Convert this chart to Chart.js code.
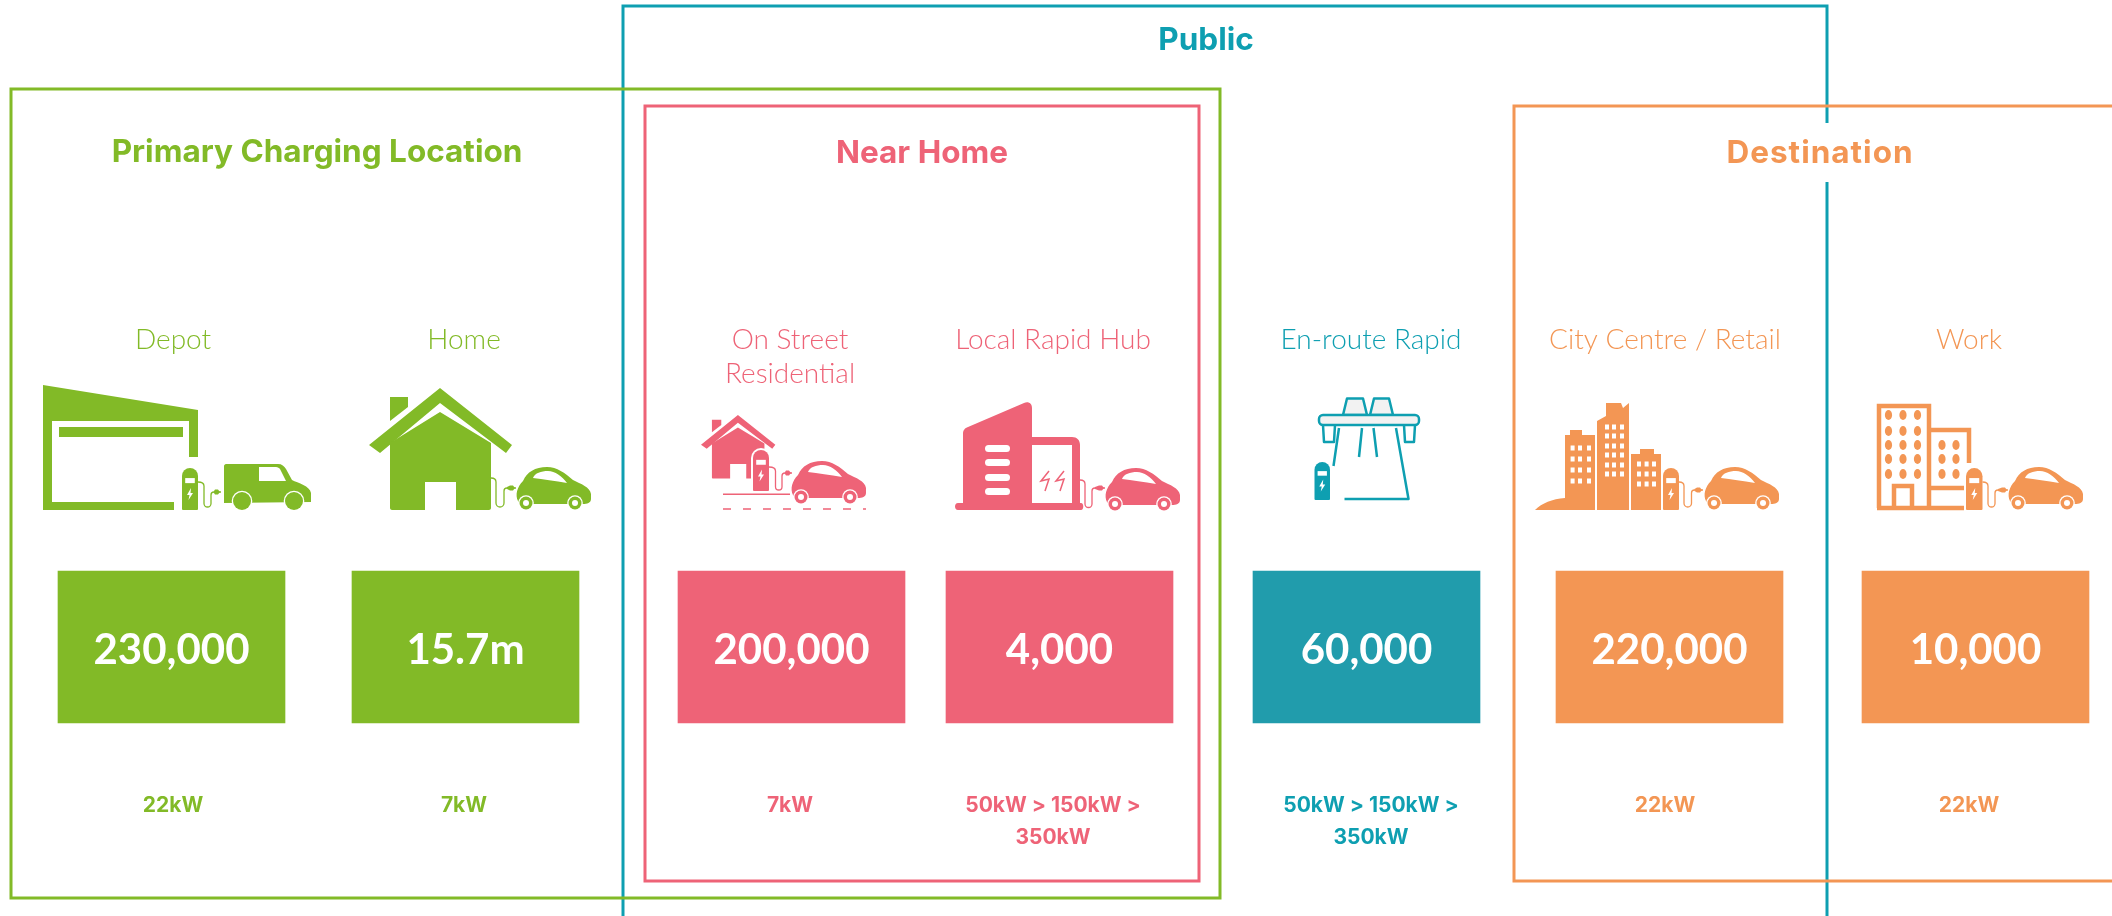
<!DOCTYPE html>
<html>
<head>
<meta charset="utf-8">
<title>Charging locations</title>
<script src="https://cdn.jsdelivr.net/npm/chart.js@4/dist/chart.umd.js"></script>
<style>
  html, body { margin: 0; padding: 0; background: #fff; }
  canvas { display: block; }
</style>
</head>
<body>
<canvas id="chart" width="2112" height="916"></canvas>
<script>
// Chart data
const categories = ['Depot', 'Home', ['On Street', 'Residential'], ['Local Rapid Hub'], 'En-route Rapid', 'City Centre / Retail', 'Work'];
const tileValues = ['230,000', '15.7m', '200,000', '4,000', '60,000', '220,000', '10,000'];
const powerRatings = [['22kW'], ['7kW'], ['7kW'], ['50kW > 150kW >', '350kW'], ['50kW > 150kW >', '350kW'], ['22kW'], ['22kW']];
const groupTitles = ['Public', 'Primary Charging Location', 'Near Home', 'Destination'];

// Layout and colours, in the 2112x916 space of the hidden axes
const GREEN = '#82BA27', PINK = '#EE6377', TEAL = '#219CAC', ORANGE = '#F39654';
const LINE_TEAL = '#0E9FB1';
const tileCentres = [171.5, 465.5, 791.5, 1059.5, 1366.5, 1669.5, 1975.5];
const tileColours = [GREEN, GREEN, PINK, PINK, TEAL, ORANGE, ORANGE];
const labelCentres = [173, 464, 790, 1053, 1371, 1665, 1969];
const tileTop = 571, tileBottom = 723;
const frames = [
    { x0: 623, y0: 6, x1: 1827, y1: 940, colour: LINE_TEAL },
    { x0: 11, y0: 89, x1: 1220, y1: 898, colour: GREEN },
    { x0: 645, y0: 106, x1: 1199, y1: 881, colour: PINK },
    { x0: 1514, y0: 106, x1: 2130, y1: 881, colour: ORANGE }
];
const titlePlaces = [
    { x: 1206, y: 50, colour: LINE_TEAL, spacing: '0px' },
    { x: 317, y: 162, colour: GREEN, spacing: '0px' },
    { x: 922, y: 163, colour: PINK, spacing: '0px' },
    { x: 1820, y: 163, colour: ORANGE, spacing: '1px' }
];

const TITLE_FONT = '700 31.5px Inter';
const LABEL_FONT = '300 28px Lato';
const VALUE_FONT = '700 42px Lato';
const POWER_FONT = '700 21px Inter';

// Icon pieces
function poly(ctx, pts) {
    ctx.beginPath();
    pts.forEach(function(p, i) { i ? ctx.lineTo(p[0], p[1]) : ctx.moveTo(p[0], p[1]); });
    ctx.closePath();
    ctx.fill();
}

function wheel(ctx, x, y, r, colour, hub) {
    ctx.fillStyle = '#fff';
    ctx.beginPath(); ctx.arc(x, y, r + 1.3, 0, Math.PI * 2); ctx.fill();
    ctx.fillStyle = colour;
    ctx.beginPath(); ctx.arc(x, y, r, 0, Math.PI * 2); ctx.fill();
    if (hub) {
        ctx.fillStyle = '#fff';
        ctx.beginPath(); ctx.arc(x, y, hub, 0, Math.PI * 2); ctx.fill();
    }
}

function car(ctx, x, y, colour) {
    ctx.save();
    ctx.translate(x, y);
    ctx.fillStyle = colour;
    ctx.fill(new Path2D('M3 34C0 28 2 20 8 14C12 5 20 0 32 0C42 0 50 6 58 13C66 17 75 20 76 27L76 32C76 36 72 37 68 37L10 37C6 37 4 36 3 34Z'));
    ctx.fillStyle = '#fff';
    ctx.fill(new Path2D('M18 11C20 6 26 4 33 4C40 4 47 9 52 16C40 14 28 12 18 11Z'));
    wheel(ctx, 11, 36, 6.5, colour, 3);
    wheel(ctx, 60, 36, 6.5, colour, 3);
    ctx.restore();
}

function van(ctx, x, y, colour) {
    ctx.save();
    ctx.translate(x, y);
    ctx.fillStyle = colour;
    ctx.fill(new Path2D('M2 0L54 0C58 0 60 2 62 5L68 16C74 19 86 22 87 29L87 38L0 39L0 2C0 1 1 0 2 0Z'));
    ctx.fillStyle = '#fff';
    ctx.fill(new Path2D('M35 3L52 3C54 3 55 4 56 5L62 17L35 17Z'));
    wheel(ctx, 18, 37, 9, colour);
    wheel(ctx, 70, 37, 9, colour);
    ctx.restore();
}

function post(ctx, x, y, w, h, colour) {
    ctx.fillStyle = '#fff';
    ctx.beginPath();
    ctx.roundRect(x - 2, y - 2, w + 4, h + 4, [w / 2 + 2, w / 2 + 2, 0, 0]);
    ctx.fill();
    ctx.fillStyle = colour;
    ctx.beginPath();
    ctx.roundRect(x, y, w, h, [w / 2, w / 2, 1, 1]);
    ctx.fill();
    ctx.fillStyle = '#fff';
    ctx.fillRect(x + w * 0.2, y + h * 0.24, w * 0.6, h * 0.12);
    const cx = x + w / 2, cy = y + h * 0.62;
    poly(ctx, [[cx + 1, cy - 6], [cx - 3, cy + 1], [cx - 0.5, cy + 1], [cx - 1.5, cy + 6], [cx + 3, cy - 1], [cx + 0.5, cy - 1]]);
}

function cable(ctx, x0, y0, a, yb, b, y1, end, colour) {
    const r = (b - a) / 2;
    ctx.strokeStyle = colour;
    ctx.lineWidth = 1.3;
    ctx.beginPath();
    ctx.moveTo(x0, y0);
    ctx.quadraticCurveTo(a, y0, a, y0 + 4);
    ctx.lineTo(a, yb - r);
    ctx.arc(a + r, yb - r, r, Math.PI, 0, true);
    ctx.lineTo(b, y1 + 3);
    ctx.quadraticCurveTo(b, y1, b + 3, y1);
    ctx.lineTo(end, y1);
    ctx.stroke();
    ctx.fillStyle = colour;
    poly(ctx, [[b + 3, y1 - 1], [end - 6, y1 - 2.5], [end - 3, y1 - 2.5], [end - 1, y1], [end - 3, y1 + 2.5], [end - 6, y1 + 2.5], [b + 3, y1 + 1]]);
}

function house(ctx, x, y, s, colour) {
    ctx.save();
    ctx.translate(x, y);
    ctx.scale(s, s);
    ctx.fillStyle = colour;
    ctx.fill(new Path2D('M0 57L71 0L143 57L137 65L71 15L11 65Z'));
    ctx.fill(new Path2D('M21 9L39 9L39 19L21 33Z'));
    ctx.fill(new Path2D('M21 55L71 24L122 55L122 120C122 121 121 122 120 122L87 122L87 94L56 94L56 122L23 122C22 122 21 121 21 120Z'));
    ctx.restore();
}

function windowGrid(ctx, xs, ys) {
    xs.forEach(function(wx) {
        ys.forEach(function(wy) { ctx.fillRect(wx - 2, wy - 2.5, 4, 5); });
    });
}

function dotGrid(ctx, xs, ys) {
    xs.forEach(function(dx) {
        ys.forEach(function(dy) {
            ctx.beginPath(); ctx.ellipse(dx, dy, 3.6, 5, 0, 0, Math.PI * 2); ctx.fill();
        });
    });
}

const iconDrawers = [
    function depot(ctx, c) {
        ctx.fillStyle = c;
        poly(ctx, [[43, 385], [198, 410], [198, 457], [189, 457], [189, 421], [52, 421], [52, 502], [174, 502], [174, 510], [43, 510]]);
        ctx.fillRect(59, 427, 124, 10);
        post(ctx, 182, 468, 16, 42, c);
        cable(ctx, 198, 482, 204, 507, 211, 492, 221, c);
        van(ctx, 224, 464, c);
    },
    function home(ctx, c) {
        house(ctx, 369, 388, 1, c);
        cable(ctx, 491, 478, 496, 507, 504, 488, 516, c);
        car(ctx, 515, 467, c);
    },
    function onStreet(ctx, c) {
        house(ctx, 701, 415, 0.52, c);
        post(ctx, 753, 450, 16, 41, c);
        cable(ctx, 769, 467, 775.5, 490, 782, 473, 792, c);
        ctx.fillStyle = c;
        ctx.fillRect(723, 493.5, 67, 1.5);
        ctx.strokeStyle = c;
        ctx.lineWidth = 1.5;
        ctx.setLineDash([8, 12]);
        ctx.beginPath(); ctx.moveTo(723, 509); ctx.lineTo(866, 509); ctx.stroke();
        ctx.setLineDash([]);
        car(ctx, 790, 461, c);
    },
    function localHub(ctx, c) {
        ctx.fillStyle = c;
        ctx.fill(new Path2D('M963 434C963 430 965 428 968 427L1024 403C1028 401 1032 403 1032 408L1032 437L1072 437C1077 437 1080 440 1080 445L1080 503L1081 503C1084 503 1084 510 1081 510L958 510C954 510 954 503 958 503L963 503Z'));
        ctx.fillStyle = '#fff';
        ctx.fillRect(1032, 445, 40, 58);
        [445, 459, 474, 488].forEach(function(sy) {
            ctx.beginPath(); ctx.roundRect(985, sy, 25, 7, 3.5); ctx.fill();
        });
        ctx.strokeStyle = c;
        ctx.lineWidth = 1.5;
        [1046, 1061].forEach(function(bx) {
            ctx.beginPath();
            ctx.moveTo(bx + 3, 471); ctx.lineTo(bx - 5, 481); ctx.lineTo(bx + 3, 479); ctx.lineTo(bx - 1, 491);
            ctx.stroke();
        });
        cable(ctx, 1080, 480, 1085, 507.5, 1092, 488, 1105, c);
        car(ctx, 1104, 468, c);
    },
    function enRoute(ctx, c) {
        ctx.strokeStyle = c;
        ctx.lineWidth = 2.5;
        ctx.lineJoin = 'round';
        ctx.fillStyle = '#F2F2F2';
        [[1343, 1367], [1370, 1393]].forEach(function(t) {
            ctx.beginPath();
            ctx.moveTo(t[0], 415); ctx.lineTo(t[0] + 4, 398.5); ctx.lineTo(t[1] - 4, 398.5); ctx.lineTo(t[1], 415);
            ctx.closePath(); ctx.fill(); ctx.stroke();
        });
        [[1323, 1335], [1404, 1415]].forEach(function(t) {
            ctx.beginPath();
            ctx.moveTo(t[0], 425); ctx.lineTo(t[0] + 1, 442); ctx.lineTo(t[1] - 1, 442); ctx.lineTo(t[1], 425);
            ctx.stroke();
        });
        ctx.beginPath(); ctx.roundRect(1319, 415, 100, 10, 4); ctx.fill(); ctx.stroke();
        ctx.beginPath();
        ctx.moveTo(1339, 428); ctx.lineTo(1333.5, 466);
        ctx.moveTo(1362, 428); ctx.lineTo(1359, 457);
        ctx.moveTo(1373.5, 428); ctx.lineTo(1377, 457);
        ctx.moveTo(1396, 428); ctx.lineTo(1408.5, 499); ctx.lineTo(1344.5, 499);
        ctx.stroke();
        ctx.lineJoin = 'miter';
        post(ctx, 1314.5, 462, 15.5, 38, c);
    },
    function city(ctx, c) {
        ctx.fillStyle = c;
        ctx.fill(new Path2D('M1535 510C1542 503 1552 499 1565 498L1565 435L1570 435L1570 430L1582 430L1582 435L1595 435L1595 510Z'));
        ctx.fill(new Path2D('M1597 510L1597 421L1606 416L1606 403L1621 403L1623 408L1629 403L1629 510Z'));
        ctx.fill(new Path2D('M1631 510L1631 454L1640 454L1640 449L1654 449L1654 454L1661 454L1661 510Z'));
        ctx.fillStyle = '#fff';
        windowGrid(ctx, [1572.6, 1580, 1589], [448, 459, 470, 481]);
        windowGrid(ctx, [1607, 1614, 1622], [427, 436, 446, 455, 465, 474]);
        windowGrid(ctx, [1639, 1646.6, 1654], [464, 474, 484]);
        post(ctx, 1663, 468, 16, 42, c);
        cable(ctx, 1679, 482, 1684, 507, 1691.5, 490, 1703, c);
        car(ctx, 1703, 467, c);
    },
    function work(ctx, c) {
        ctx.strokeStyle = c;
        ctx.fillStyle = c;
        ctx.lineWidth = 4.5;
        ctx.beginPath();
        ctx.moveTo(1879, 508); ctx.lineTo(1879, 406); ctx.lineTo(1929, 406); ctx.lineTo(1929, 508);
        ctx.moveTo(1929, 430); ctx.lineTo(1969, 430); ctx.lineTo(1969, 463);
        ctx.moveTo(1877, 508); ctx.lineTo(1966, 508);
        ctx.moveTo(1929, 488); ctx.lineTo(1966, 488);
        ctx.moveTo(1894, 508); ctx.lineTo(1894, 486); ctx.lineTo(1912, 486); ctx.lineTo(1912, 508);
        ctx.stroke();
        dotGrid(ctx, [1888.5, 1903, 1917.5], [415, 431, 445, 459, 474]);
        dotGrid(ctx, [1942, 1956], [445, 459, 474]);
        post(ctx, 1966, 468, 16.5, 42, c);
        cable(ctx, 1982.5, 482, 1988, 507, 1995, 490, 2008, c);
        car(ctx, 2007, 467, c);
    }
];
const iconColours = [GREEN, GREEN, PINK, PINK, LINE_TEAL, ORANGE, ORANGE];

// Frames sit under the tiles, everything else is written on top
const infographic = {
    id: 'infographic',
    beforeDatasetsDraw: function(chart) {
        const ctx = chart.ctx, sx = chart.scales.x, sy = chart.scales.y;
        ctx.save();
        ctx.lineWidth = 3;
        frames.forEach(function(f, i) {
            ctx.strokeStyle = f.colour;
            ctx.strokeRect(sx.getPixelForValue(f.x0), sy.getPixelForValue(f.y0),
                sx.getPixelForValue(f.x1) - sx.getPixelForValue(f.x0),
                sy.getPixelForValue(f.y1) - sy.getPixelForValue(f.y0));
            if (i === 0) {
                // gap under the Destination heading
                ctx.clearRect(sx.getPixelForValue(1820), sy.getPixelForValue(123), 12, 59);
            }
        });
        ctx.restore();
    },
    afterDatasetsDraw: function(chart) {
        const ctx = chart.ctx, sx = chart.scales.x, sy = chart.scales.y;
        ctx.save();
        ctx.textAlign = 'center';
        ctx.textBaseline = 'alphabetic';

        ctx.font = TITLE_FONT;
        groupTitles.forEach(function(t, i) {
            ctx.fillStyle = titlePlaces[i].colour;
            ctx.letterSpacing = titlePlaces[i].spacing;
            ctx.fillText(t, sx.getPixelForValue(titlePlaces[i].x), sy.getPixelForValue(titlePlaces[i].y));
        });
        ctx.letterSpacing = '0px';

        categories.forEach(function(name, i) {
            const lines = Array.isArray(name) ? name : [name];
            ctx.fillStyle = iconColours[i];
            ctx.font = LABEL_FONT;
            lines.forEach(function(l, n) {
                ctx.fillText(l, sx.getPixelForValue(labelCentres[i]), sy.getPixelForValue(349 + n * 34));
            });
            ctx.fillStyle = '#fff';
            ctx.font = VALUE_FONT;
            ctx.fillText(tileValues[i], sx.getPixelForValue(tileCentres[i]), sy.getPixelForValue(664));
            ctx.fillStyle = iconColours[i];
            ctx.font = POWER_FONT;
            powerRatings[i].forEach(function(l, n) {
                ctx.fillText(l, sx.getPixelForValue(labelCentres[i]), sy.getPixelForValue(812 + n * 32));
            });
        });
        ctx.restore();

        ctx.save();
        iconDrawers.forEach(function(draw, i) { draw(ctx, iconColours[i]); });
        ctx.restore();
    }
};

new Chart(document.getElementById('chart').getContext('2d'), {
    type: 'bar',
    data: {
        datasets: [{
            label: 'Charge points',
            data: tileCentres.map(function(x) { return { x: x, y: [tileTop, tileBottom] }; }),
            backgroundColor: tileColours,
            borderWidth: 0,
            barThickness: 227
        }]
    },
    options: {
        responsive: false,
        animation: false,
        layout: { padding: 0 },
        plugins: { legend: { display: false }, tooltip: { enabled: false } },
        scales: {
            x: { type: 'linear', display: false, offset: false, min: 0, max: 2112 },
            y: { type: 'linear', display: false, min: 0, max: 916, reverse: true }
        }
    },
    plugins: [infographic]
});
</script>
</body>
</html>
